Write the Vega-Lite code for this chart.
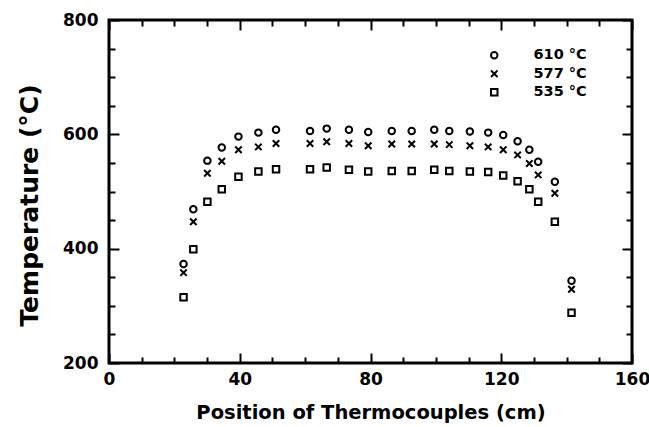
{
  "$schema": "https://vega.github.io/schema/vega-lite/v6.json",
  "width": 523,
  "height": 343,
  "autosize": "none",
  "padding": {"left": 109, "top": 20, "right": 17, "bottom": 64},
  "background": "white",
  "config": {
    "view": {"stroke": "black", "strokeWidth": 3},
    "font": "DejaVu Sans",
    "axis": {
      "domain": false,
      "grid": false,
      "tickColor": "black",
      "tickWidth": 2,
      "labelColor": "black",
      "labelFontWeight": "bold",
      "labelFontSize": 17,
      "titleColor": "black",
      "titleFontWeight": "bold"
    }
  },
  "data": {
    "values": [
      {"x": 22.8, "T": 373, "series": "610 °C"}, {"x": 25.8, "T": 469, "series": "610 °C"}, {"x": 30.1, "T": 554, "series": "610 °C"}, {"x": 34.5, "T": 577, "series": "610 °C"}, {"x": 39.6, "T": 596, "series": "610 °C"}, {"x": 45.7, "T": 603, "series": "610 °C"}, {"x": 51.1, "T": 608, "series": "610 °C"}, {"x": 61.5, "T": 606, "series": "610 °C"}, {"x": 66.6, "T": 610, "series": "610 °C"}, {"x": 73.4, "T": 608, "series": "610 °C"}, {"x": 79.3, "T": 604, "series": "610 °C"}, {"x": 86.5, "T": 606, "series": "610 °C"}, {"x": 92.6, "T": 606, "series": "610 °C"}, {"x": 99.5, "T": 608, "series": "610 °C"}, {"x": 104.1, "T": 606, "series": "610 °C"}, {"x": 110.4, "T": 605, "series": "610 °C"}, {"x": 116.0, "T": 603, "series": "610 °C"}, {"x": 120.6, "T": 599, "series": "610 °C"}, {"x": 125.0, "T": 588, "series": "610 °C"}, {"x": 128.6, "T": 573, "series": "610 °C"}, {"x": 131.3, "T": 552, "series": "610 °C"}, {"x": 136.4, "T": 517, "series": "610 °C"}, {"x": 141.5, "T": 344, "series": "610 °C"},
      {"x": 22.8, "T": 358, "series": "577 °C"}, {"x": 25.8, "T": 447, "series": "577 °C"}, {"x": 30.1, "T": 532, "series": "577 °C"}, {"x": 34.5, "T": 553, "series": "577 °C"}, {"x": 39.6, "T": 573, "series": "577 °C"}, {"x": 45.7, "T": 578, "series": "577 °C"}, {"x": 51.1, "T": 584, "series": "577 °C"}, {"x": 61.5, "T": 584, "series": "577 °C"}, {"x": 66.6, "T": 587, "series": "577 °C"}, {"x": 73.4, "T": 584, "series": "577 °C"}, {"x": 79.3, "T": 580, "series": "577 °C"}, {"x": 86.5, "T": 583, "series": "577 °C"}, {"x": 92.6, "T": 583, "series": "577 °C"}, {"x": 99.5, "T": 583, "series": "577 °C"}, {"x": 104.1, "T": 582, "series": "577 °C"}, {"x": 110.4, "T": 580, "series": "577 °C"}, {"x": 116.0, "T": 578, "series": "577 °C"}, {"x": 120.6, "T": 573, "series": "577 °C"}, {"x": 125.0, "T": 564, "series": "577 °C"}, {"x": 128.6, "T": 549, "series": "577 °C"}, {"x": 131.3, "T": 529, "series": "577 °C"}, {"x": 136.4, "T": 497, "series": "577 °C"}, {"x": 141.5, "T": 329, "series": "577 °C"},
      {"x": 22.8, "T": 315, "series": "535 °C"}, {"x": 25.8, "T": 399, "series": "535 °C"}, {"x": 30.1, "T": 482, "series": "535 °C"}, {"x": 34.5, "T": 504, "series": "535 °C"}, {"x": 39.6, "T": 526, "series": "535 °C"}, {"x": 45.7, "T": 535, "series": "535 °C"}, {"x": 51.1, "T": 539, "series": "535 °C"}, {"x": 61.5, "T": 539, "series": "535 °C"}, {"x": 66.6, "T": 542, "series": "535 °C"}, {"x": 73.4, "T": 538, "series": "535 °C"}, {"x": 79.3, "T": 535, "series": "535 °C"}, {"x": 86.5, "T": 536, "series": "535 °C"}, {"x": 92.6, "T": 536, "series": "535 °C"}, {"x": 99.5, "T": 538, "series": "535 °C"}, {"x": 104.1, "T": 536, "series": "535 °C"}, {"x": 110.4, "T": 535, "series": "535 °C"}, {"x": 116.0, "T": 534, "series": "535 °C"}, {"x": 120.6, "T": 528, "series": "535 °C"}, {"x": 125.0, "T": 518, "series": "535 °C"}, {"x": 128.6, "T": 504, "series": "535 °C"}, {"x": 131.3, "T": 482, "series": "535 °C"}, {"x": 136.4, "T": 447, "series": "535 °C"}, {"x": 141.5, "T": 288, "series": "535 °C"}
    ]
  },
  "layer": [
    {
      "mark": {"type": "point", "filled": false, "strokeWidth": 2, "size": 42, "color": "black", "opacity": 1},
      "encoding": {
        "x": {
          "field": "x", "type": "quantitative",
          "scale": {"domain": [0, 160], "nice": false, "zero": false},
          "axis": {
            "orient": "bottom",
            "values": [0, 10, 20, 30, 40, 50, 60, 70, 80, 90, 100, 110, 120, 130, 140, 150, 160],
            "labelExpr": "datum.value % 40 === 0 ? datum.label : ''",
            "tickSize": {"condition": {"test": "datum.value % 40 === 0", "value": -10}, "value": -6},
            "labelPadding": 18,
            "labelFlush": false,
            "labelOverlap": false,
            "title": "Position of Thermocouples (cm)",
            "titleFontSize": 19.5,
            "titlePadding": 12
          }
        },
        "y": {
          "field": "T", "type": "quantitative",
          "scale": {"domain": [200, 800], "nice": false, "zero": false},
          "axis": {
            "orient": "left",
            "values": [200, 250, 300, 350, 400, 450, 500, 550, 600, 650, 700, 750, 800],
            "labelExpr": "datum.value % 200 === 0 ? datum.label : ''",
            "tickSize": {"condition": {"test": "datum.value % 200 === 0", "value": -10}, "value": -6},
            "labelPadding": 21,
            "labelFlush": false,
            "labelOverlap": false,
            "title": "Temperature (°C)",
            "titleFontSize": 25,
            "titlePadding": 20,
            "titleY": 185
          }
        },
        "shape": {
          "field": "series", "type": "nominal",
          "scale": {"domain": ["610 °C", "577 °C", "535 °C"], "range": ["circle", "M-1,-1L1,1M-1,1L1,-1", "square"]},
          "legend": {
            "orient": "none",
            "legendX": 378,
            "legendY": 28,
            "title": null,
            "labelFontSize": 14.5,
            "labelFontWeight": "bold",
            "labelColor": "black",
            "labelOffset": 32,
            "symbolStrokeWidth": 2,
            "symbolSize": 42,
            "symbolStrokeColor": "black",
            "symbolFillColor": "transparent",
            "rowPadding": 2.5,
            "encode": {"labels": {"update": {"fill": {"signal": "datum.label === '610 °C' ? '#7a7a7a' : 'black'"}}}}
          }
        }
      }
    },
    {
      "mark": {"type": "point", "opacity": 0},
      "encoding": {
        "x": {
          "field": "x", "type": "quantitative",
          "scale": {"domain": [0, 160], "nice": false, "zero": false},
          "axis": {
            "orient": "top",
            "values": [0, 10, 20, 30, 40, 50, 60, 70, 80, 90, 100, 110, 120, 130, 140, 150, 160],
            "labels": false,
            "tickSize": {"condition": {"test": "datum.value % 40 === 0", "value": -10}, "value": -6},
            "title": null
          }
        },
        "y": {
          "field": "T", "type": "quantitative",
          "scale": {"domain": [200, 800], "nice": false, "zero": false},
          "axis": {
            "orient": "right",
            "values": [200, 250, 300, 350, 400, 450, 500, 550, 600, 650, 700, 750, 800],
            "labels": false,
            "tickSize": {"condition": {"test": "datum.value % 200 === 0", "value": -10}, "value": -6},
            "title": null
          }
        }
      }
    }
  ],
  "resolve": {"axis": {"x": "independent", "y": "independent"}}
}
